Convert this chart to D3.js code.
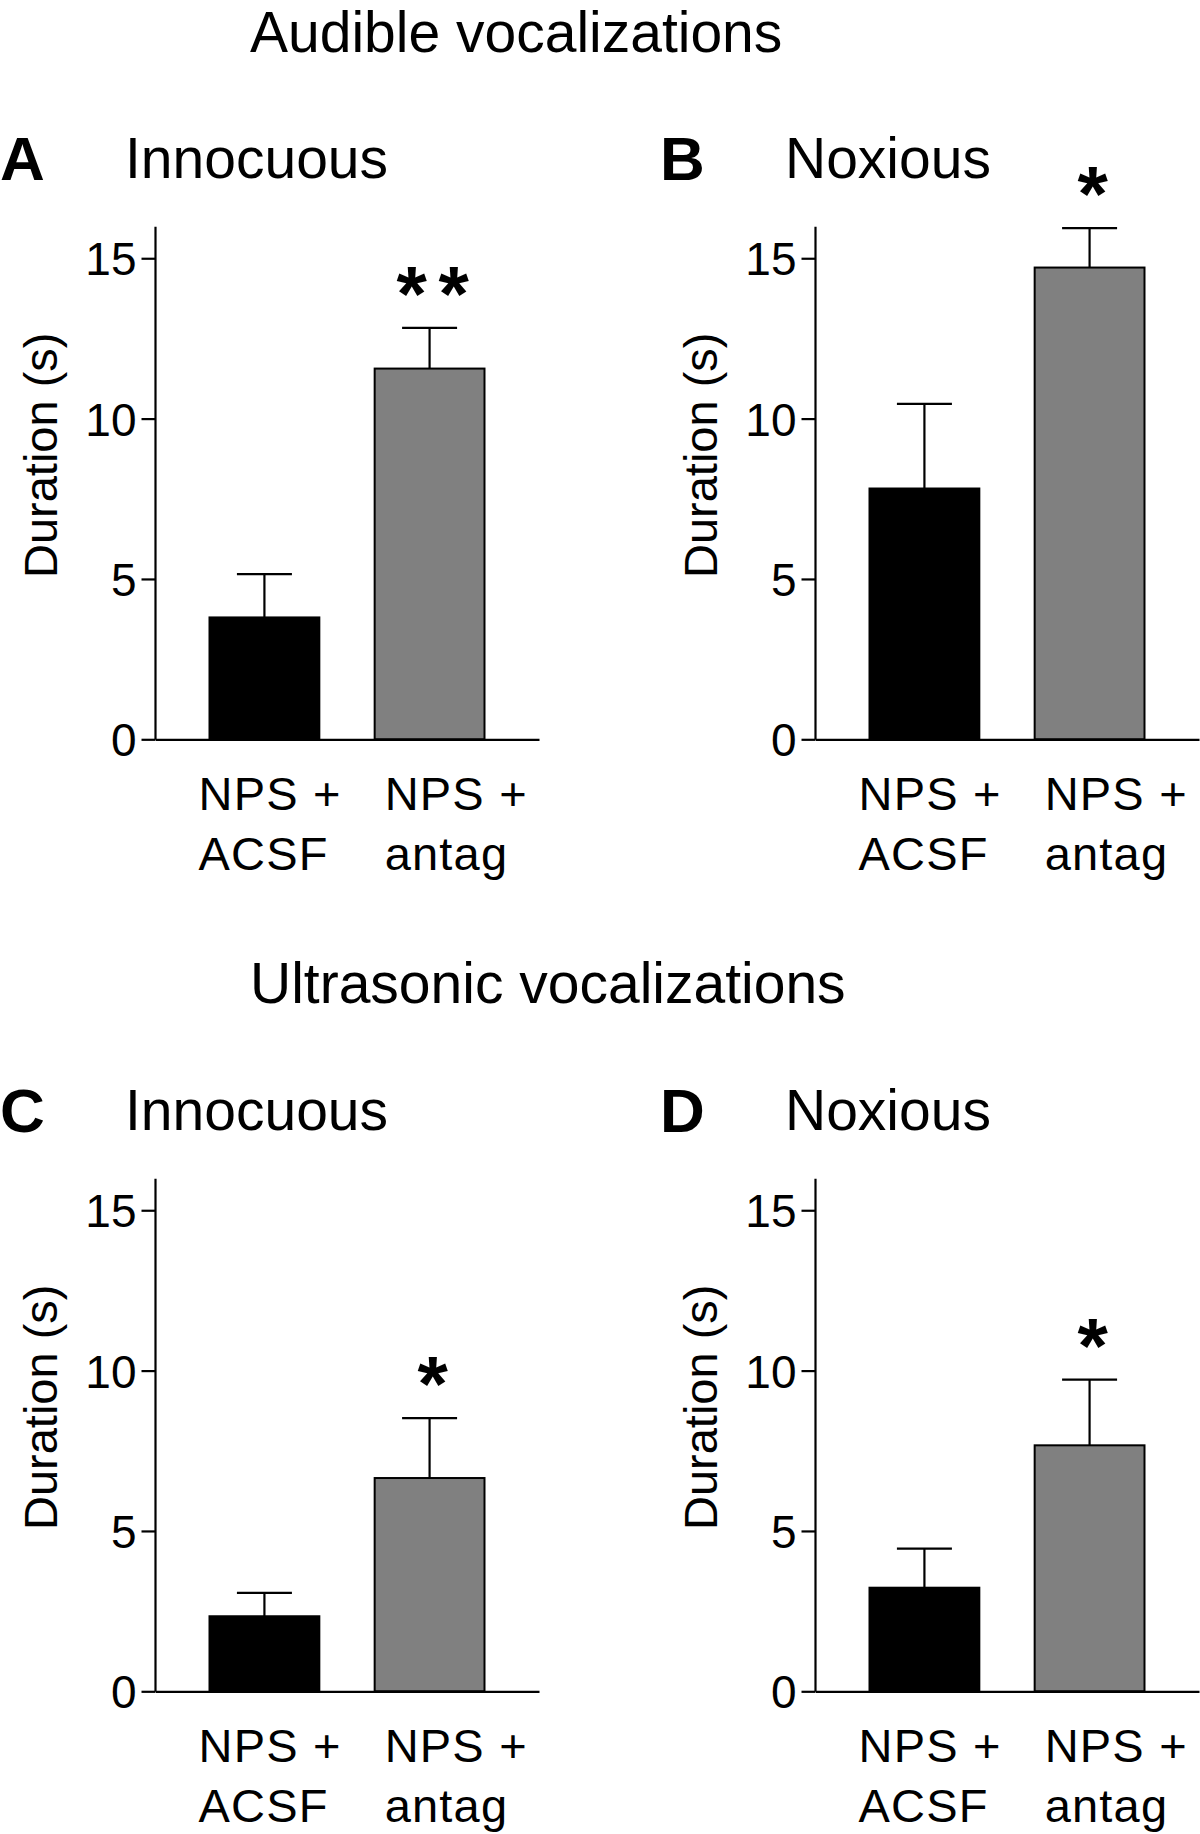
<!DOCTYPE html>
<html>
<head>
<meta charset="utf-8">
<script src="https://cdn.jsdelivr.net/npm/d3@7"></script>
<style>
  html, body { margin: 0; padding: 0; background: #fff; }
  svg { display: block; }
  text { font-family: "Liberation Sans", Arial, Helvetica, sans-serif; fill: #000; }
</style>
</head>
<body>
<svg id="chart" width="1200" height="1834"></svg>
<script>
// ---------------- data ----------------
const sectionTitles = ["Audible vocalizations", "Ultrasonic vocalizations"];
const panelLetters = ["A", "B", "C", "D"];
const panelTitles = ["Innocuous", "Noxious", "Innocuous", "Noxious"];
const categories = ["NPS + ACSF", "NPS + antag"];
const categoryLines = [["NPS +", "ACSF"], ["NPS +", "antag"]];
const meanACSF  = [3.80, 7.82, 2.34, 3.23];
const meanAntag = [11.56, 14.71, 6.65, 7.67];
const semACSF   = [1.35, 2.64, 0.73, 1.22];
const semAntag  = [1.27, 1.23, 1.87, 2.05];
const significance = ["**", "*", "*", "*"];
const yTicks = [0, 5, 10, 15];
const yLabel = "Duration (s)";
const barColors = ["#000000", "#808080"];

// ---------------- layout ----------------
const svg = d3.select("#chart");
const colX = [155, 815];        // y-axis x position per column
const rowY0 = [739.3, 1691.3];  // y of zero per row
const pxPerUnit = 32.07;
const plotW = 384;
const tickLen = 13.5;

// section titles
svg.selectAll("text.section")
  .data(sectionTitles)
  .join("text")
  .attr("class", "section")
  .attr("x", 250)
  .attr("y", (d, i) => 52 + i * 951)
  .attr("font-size", 57)
  .text(d => d);

panelLetters.forEach((letter, p) => {
  const col = p % 2, row = Math.floor(p / 2);
  const ax = colX[col], y0 = rowY0[row];
  const g = svg.append("g");

  const y = d3.scaleLinear().domain([0, 16]).range([y0, y0 - 16 * pxPerUnit]);
  const x = d3.scaleBand().domain(categories).range([ax, ax + plotW])
    .paddingInner(0.335).paddingOuter(0.33);

  // panel letter and title
  g.append("text")
    .attr("x", ax - 155).attr("y", y0 - 559.5)
    .attr("font-size", 62).attr("font-weight", "bold")
    .text(letter);
  g.append("text")
    .attr("x", ax - 30).attr("y", y0 - 561.5)
    .attr("font-size", 57)
    .text(panelTitles[p]);

  // bars
  const vals = [meanACSF[p], meanAntag[p]];
  const sems = [semACSF[p], semAntag[p]];
  const rows = categories.map((c, i) => ({ c, v: vals[i], e: sems[i], i }));

  // error bars (upper only)
  const capW = 55;
  const eg = g.append("g").attr("stroke", "#000").attr("stroke-width", 2.2);
  eg.selectAll("line.ev").data(rows).join("line")
    .attr("x1", d => x(d.c) + x.bandwidth() / 2)
    .attr("x2", d => x(d.c) + x.bandwidth() / 2)
    .attr("y1", d => y(d.v))
    .attr("y2", d => y(d.v + d.e));
  eg.selectAll("line.ec").data(rows).join("line")
    .attr("x1", d => x(d.c) + x.bandwidth() / 2 - capW / 2)
    .attr("x2", d => x(d.c) + x.bandwidth() / 2 + capW / 2)
    .attr("y1", d => y(d.v + d.e))
    .attr("y2", d => y(d.v + d.e));

  g.selectAll("rect.bar").data(rows).join("rect")
    .attr("class", "bar")
    .attr("x", d => x(d.c))
    .attr("width", x.bandwidth())
    .attr("y", d => y(d.v))
    .attr("height", d => y(0) - y(d.v))
    .attr("fill", d => barColors[d.i])
    .attr("stroke", "#000")
    .attr("stroke-width", 2);

  // y axis
  const yAxis = d3.axisLeft(y).tickValues(yTicks).tickSize(tickLen).tickSizeOuter(0).tickPadding(5);
  const yg = g.append("g").attr("transform", `translate(${ax},0)`).call(yAxis);
  yg.select(".domain").attr("stroke-width", 2.2);
  yg.selectAll(".tick line").attr("stroke-width", 2.2);
  yg.selectAll(".tick text")
    .attr("font-size", 46)
    .attr("font-family", "Liberation Sans, Arial, sans-serif")
    .attr("fill", "#000")
    .attr("dy", "0.36em");

  // x axis line
  const xAxis = d3.axisBottom(x).tickSize(0).tickSizeOuter(0).tickFormat("");
  const xg = g.append("g").attr("transform", `translate(0,${y0})`).call(xAxis);
  xg.select(".domain").attr("stroke-width", 2.2);

  // category labels (two lines, left aligned)
  const labelDx = [-11, 10];
  categoryLines.forEach((lines, i) => {
    const t = g.append("text")
      .attr("x", x(categories[i]) + labelDx[i])
      .attr("y", y0 + 71)
      .attr("font-size", 47)
      .attr("letter-spacing", 1.2);
    lines.forEach((ln, k) => {
      t.append("tspan")
        .attr("x", x(categories[i]) + labelDx[i])
        .attr("y", y0 + 71 + k * 60)
        .text(ln);
    });
  });

  // y label
  g.append("text")
    .attr("transform", `translate(${ax - 98},${y0 - 284}) rotate(-90)`)
    .attr("text-anchor", "middle")
    .attr("font-size", 47)
    .text(yLabel);

  // significance stars above the antag bar
  const d = rows[1];
  const cx = x(d.c) + x.bandwidth() / 2 + 3;
  const starY = y(d.v + d.e) - 50;
  const chars = significance[p].split("");
  const gap = 42;
  chars.forEach((ch, k) => {
    g.append("text")
      .attr("x", cx + (k - (chars.length - 1) / 2) * gap)
      .attr("y", starY + 43)
      .attr("text-anchor", "middle")
      .attr("font-size", 78)
      .attr("font-weight", "bold")
      .text(ch);
  });
});
</script>
</body>
</html>
